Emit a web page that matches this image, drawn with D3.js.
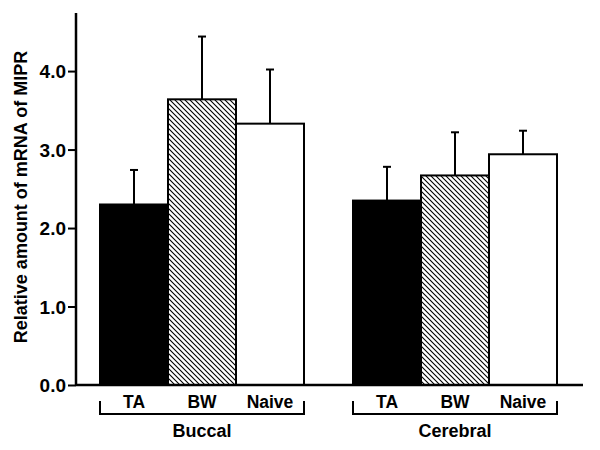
<!DOCTYPE html>
<html><head><meta charset="utf-8">
<script src="https://cdn.jsdelivr.net/npm/d3@7"></script>
<style>body{margin:0;background:#fff}svg{display:block}text{font-family:"Liberation Sans",Arial,sans-serif;font-weight:bold;fill:#000}</style>
</head><body>
<script>
const groups = ["Buccal", "Cerebral"];
const categories = ["TA", "BW", "Naive"];
const buccalValues = [2.30, 3.64, 3.33];
const buccalErrors = [0.44, 0.80, 0.69];
const cerebralValues = [2.35, 2.67, 2.94];
const cerebralErrors = [0.43, 0.55, 0.30];
const yTicks = [0, 1, 2, 3, 4];
const yLabel = "Relative amount of mRNA of MIPR";

const data = [];
groups.forEach((g, gi) => {
  const vals = gi === 0 ? buccalValues : cerebralValues;
  const errs = gi === 0 ? buccalErrors : cerebralErrors;
  categories.forEach((c, ci) => data.push({group: g, cat: c, value: vals[ci], err: errs[ci]}));
});

const W = 600, H = 450;
const svg = d3.select("body").append("svg").attr("width", W).attr("height", H);
const defs = svg.append("defs");
const pat = defs.append("pattern").attr("id", "hatch").attr("patternUnits", "userSpaceOnUse")
  .attr("width", 5).attr("height", 5);
pat.append("rect").attr("width", 5).attr("height", 5).attr("fill", "#fff");
pat.append("path").attr("d", "M0,0 L5,5 M-1,4 L1,6 M4,-1 L6,1").attr("stroke", "#000").attr("stroke-width", 1.1);

const axisX = 76, baseY = 385, topY = 13, rightX = 583;
const y = d3.scaleLinear().domain([0, 4.74]).range([baseY, topY]);
const xg = d3.scaleBand().domain(groups).range([100, 557]).paddingInner(49 / 253).paddingOuter(0);
const xc = d3.scaleBand().domain(categories).range([0, xg.bandwidth()]).padding(0);
const fills = {TA: "#000", BW: "url(#hatch)", Naive: "#fff"};

const eb = svg.append("g").attr("stroke", "#000").attr("stroke-width", 2);
data.forEach(d => {
  const cx = xg(d.group) + xc(d.cat) + xc.bandwidth() / 2;
  eb.append("line").attr("x1", cx).attr("x2", cx).attr("y1", y(d.value)).attr("y2", y(d.value + d.err));
  eb.append("line").attr("x1", cx - 4).attr("x2", cx + 4).attr("y1", y(d.value + d.err)).attr("y2", y(d.value + d.err));
});

svg.append("g").selectAll("rect").data(data).join("rect")
  .attr("x", d => xg(d.group) + xc(d.cat))
  .attr("y", d => y(d.value))
  .attr("width", xc.bandwidth())
  .attr("height", d => baseY - y(d.value))
  .attr("fill", d => fills[d.cat])
  .attr("stroke", "#000").attr("stroke-width", 2);

const ya = svg.append("g").attr("transform", `translate(${axisX},0)`)
  .call(d3.axisLeft(y).tickValues(yTicks).tickFormat(d3.format(".1f")).tickSize(8).tickSizeOuter(0));
ya.select(".domain").remove();
ya.selectAll(".tick line").attr("stroke-width", 2);
ya.selectAll(".tick text").attr("x", -10).attr("dy", "0.36em").style("font-size", "19px").style("font-family", "'Liberation Sans',Arial,sans-serif").style("font-weight", "bold");
svg.append("line").attr("x1", axisX).attr("x2", axisX).attr("y1", topY).attr("y2", baseY + 1).attr("stroke", "#000").attr("stroke-width", 2.5);
svg.append("line").attr("x1", axisX).attr("x2", rightX).attr("y1", baseY).attr("y2", baseY).attr("stroke", "#000").attr("stroke-width", 2.5);

svg.append("g").selectAll("text").data(data).join("text")
  .attr("x", d => xg(d.group) + xc(d.cat) + xc.bandwidth() / 2)
  .attr("y", 408).attr("text-anchor", "middle").style("font-size", "17.5px")
  .text(d => d.cat);

groups.forEach(g => {
  const x0 = xg(g), x1 = xg(g) + xg.bandwidth();
  svg.append("path").attr("d", `M${x0},401 V414 H${x1} V401`).attr("fill", "none")
    .attr("stroke", "#000").attr("stroke-width", 2);
  svg.append("text").attr("x", (x0 + x1) / 2).attr("y", 437).attr("text-anchor", "middle")
    .style("font-size", "18px").text(g);
});

svg.append("text").attr("transform", `translate(27,197) rotate(-90)`).attr("text-anchor", "middle")
  .style("font-size", "18px").text(yLabel);
</script>
</body></html>
